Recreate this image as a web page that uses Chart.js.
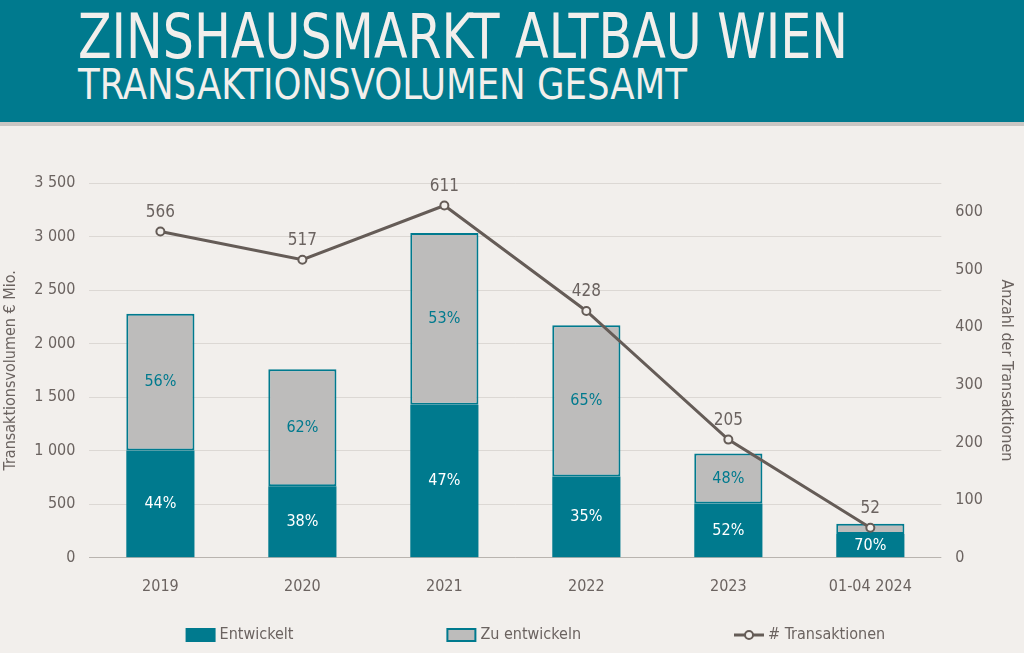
<!DOCTYPE html>
<html lang="de">
<head>
<meta charset="UTF-8">
<title>Zinshausmarkt Altbau Wien</title>
<script src="https://cdn.jsdelivr.net/npm/chart.js"></script>
<style>
  html, body { margin: 0; padding: 0; }
  body {
    width: 1024px; height: 653px; overflow: hidden;
    background: #f2efec;
    font-family: 'DejaVu Sans Condensed', sans-serif;
  }
  #hdr {
    position: relative; height: 122px;
    background: #007a8e;
    border-bottom: 4px solid #c9c6c3;
    color: #f2efec;
  }
  #hdr div { position: absolute; left: 78px; white-space: nowrap; transform-origin: 0 0; }
  #hdr .t1 { top: 6px; font-size: 62px; line-height: 62px; transform: scaleX(0.88); }
  #hdr .t2 { top: 64px; font-size: 42px; line-height: 42px; transform: scaleX(0.94); }
  .box { position: relative; width: 1024px; height: 527px; }
</style>
</head>
<body>
<div id="hdr">
  <div class="t1">ZINSHAUSMARKT ALTBAU WIEN</div>
  <div class="t2">TRANSAKTIONSVOLUMEN GESAMT</div>
</div>
<div class="box"><canvas id="c" width="1024" height="527"></canvas></div>
<script>
const years = ['2019', '2020', '2021', '2022', '2023', '01-04 2024'];
const entwickelt = [1003, 669, 1430, 760, 506, 223];
const zuEntwickeln = [1277, 1091, 1602, 1411, 467, 95];
const transaktionen = [566, 517, 611, 428, 205, 52];

const TEAL = '#007a8e';
const GREY = '#bdbcbb';
const LINE = '#655c57';
const TXT = '#6b6360';
const BG = '#f2efec';
const FONT = "'DejaVu Sans Condensed', sans-serif";

const fmt = v => String(v).replace(/\B(?=(\d{3})+(?!\d))/g, ' ');

// value labels on the bars and above the line points
const labelsPlugin = {
  id: 'labels',
  afterDatasetsDraw(chart) {
    const ctx = chart.ctx;
    ctx.save();
    ctx.textAlign = 'center';
    ctx.textBaseline = 'middle';
    ctx.font = '16px ' + FONT;
    [0, 1].forEach(di => {
      chart.getDatasetMeta(di).data.forEach((el, i) => {
        const total = entwickelt[i] + zuEntwickeln[i];
        const v = di === 0 ? entwickelt[i] : zuEntwickeln[i];
        if (Math.abs(el.base - el.y) < 18) return;
        ctx.fillStyle = di === 0 ? '#ffffff' : TEAL;
        ctx.fillText(Math.round(v / total * 100) + '%', el.x, (el.y + el.base) / 2);
      });
    });
    ctx.fillStyle = TXT;
    ctx.font = '17px ' + FONT;
    chart.getDatasetMeta(2).data.forEach((p, i) => {
      ctx.fillText(String(transaktionen[i]), p.x, p.y - 19);
    });
    ctx.restore();
  }
};

// legend row at the bottom, items spread with a fixed gap
const legendPlugin = {
  id: 'spreadLegend',
  afterDraw(chart) {
    const ctx = chart.ctx;
    const a = chart.chartArea;
    const y = 509, gap = 153, sym = 30, sp = 4;
    ctx.save();
    ctx.font = '16px ' + FONT;
    ctx.textBaseline = 'middle';
    ctx.textAlign = 'left';
    const items = chart.data.datasets.map(d => ({ d, w: sym + sp + ctx.measureText(d.label).width }));
    const total = items.reduce((s, it) => s + it.w, 0) + gap * (items.length - 1);
    let x = (a.left + a.right) / 2 + 20 - total / 2;
    items.forEach(({ d, w }) => {
      if (d.type === 'bar') {
        ctx.fillStyle = d.backgroundColor;
        ctx.strokeStyle = d.borderColor;
        ctx.lineWidth = 2;
        ctx.fillRect(x + 1, y - 6, sym - 2, 12);
        ctx.strokeRect(x + 1, y - 6, sym - 2, 12);
      } else {
        ctx.strokeStyle = d.borderColor;
        ctx.lineWidth = 3;
        ctx.beginPath(); ctx.moveTo(x, y); ctx.lineTo(x + sym, y); ctx.stroke();
        ctx.fillStyle = BG; ctx.lineWidth = 2;
        ctx.beginPath(); ctx.arc(x + sym / 2, y, 4, 0, Math.PI * 2); ctx.fill(); ctx.stroke();
      }
      ctx.fillStyle = TXT;
      ctx.fillText(d.label, x + sym + sp, y);
      x += w + gap;
    });
    ctx.restore();
  }
};

new Chart(document.getElementById('c'), {
  data: {
    labels: years,
    datasets: [
      {
        type: 'bar', label: 'Entwickelt', data: entwickelt,
        backgroundColor: TEAL, borderColor: TEAL, borderWidth: 0,
        stack: 's', yAxisID: 'y', order: 2,
        categoryPercentage: 1, barPercentage: 0.48
      },
      {
        type: 'bar', label: 'Zu entwickeln', data: zuEntwickeln,
        backgroundColor: GREY, borderColor: TEAL, borderWidth: 2, borderSkipped: false,
        stack: 's', yAxisID: 'y', order: 2,
        categoryPercentage: 1, barPercentage: 0.48
      },
      {
        type: 'line', label: '# Transaktionen', data: transaktionen,
        borderColor: LINE, borderWidth: 3, yAxisID: 'y1', order: 1,
        pointRadius: 4, pointBorderWidth: 2, pointBackgroundColor: BG, pointBorderColor: LINE,
        tension: 0
      }
    ]
  },
  options: {
    responsive: false,
    maintainAspectRatio: false,
    animation: false,
    devicePixelRatio: 1,
    layout: { padding: { top: 57, left: 1, right: 8, bottom: 46 } },
    scales: {
      x: {
        stacked: true,
        grid: { display: false },
        border: { display: false },
        ticks: { color: TXT, font: { family: FONT, size: 16 }, padding: 11 }
      },
      y: {
        stacked: true, min: 0, max: 3500,
        position: 'left',
        border: { display: false },
        grid: { drawTicks: false, color: c => c.tick && c.tick.value === 0 ? '#b9b4af' : '#dcd8d4' },
        ticks: { stepSize: 500, color: TXT, font: { family: FONT, size: 16 }, padding: 14, callback: v => fmt(v) },
        title: { display: true, text: 'Transaktionsvolumen € Mio.', color: TXT, font: { family: FONT, size: 16 }, padding: 0 }
      },
      y1: {
        min: 0, max: 650,
        position: 'right',
        border: { display: false },
        grid: { display: false, drawTicks: false },
        afterBuildTicks: s => { s.ticks = s.ticks.filter(t => t.value <= 600); },
        ticks: { stepSize: 100, color: TXT, font: { family: FONT, size: 16 }, padding: 14 },
        title: { display: true, text: 'Anzahl der Transaktionen', color: TXT, font: { family: FONT, size: 16 }, padding: 0 }
      }
    },
    plugins: {
      tooltip: { enabled: false },
      legend: { display: false }
    }
  },
  plugins: [labelsPlugin, legendPlugin]
});
</script>
</body>
</html>
